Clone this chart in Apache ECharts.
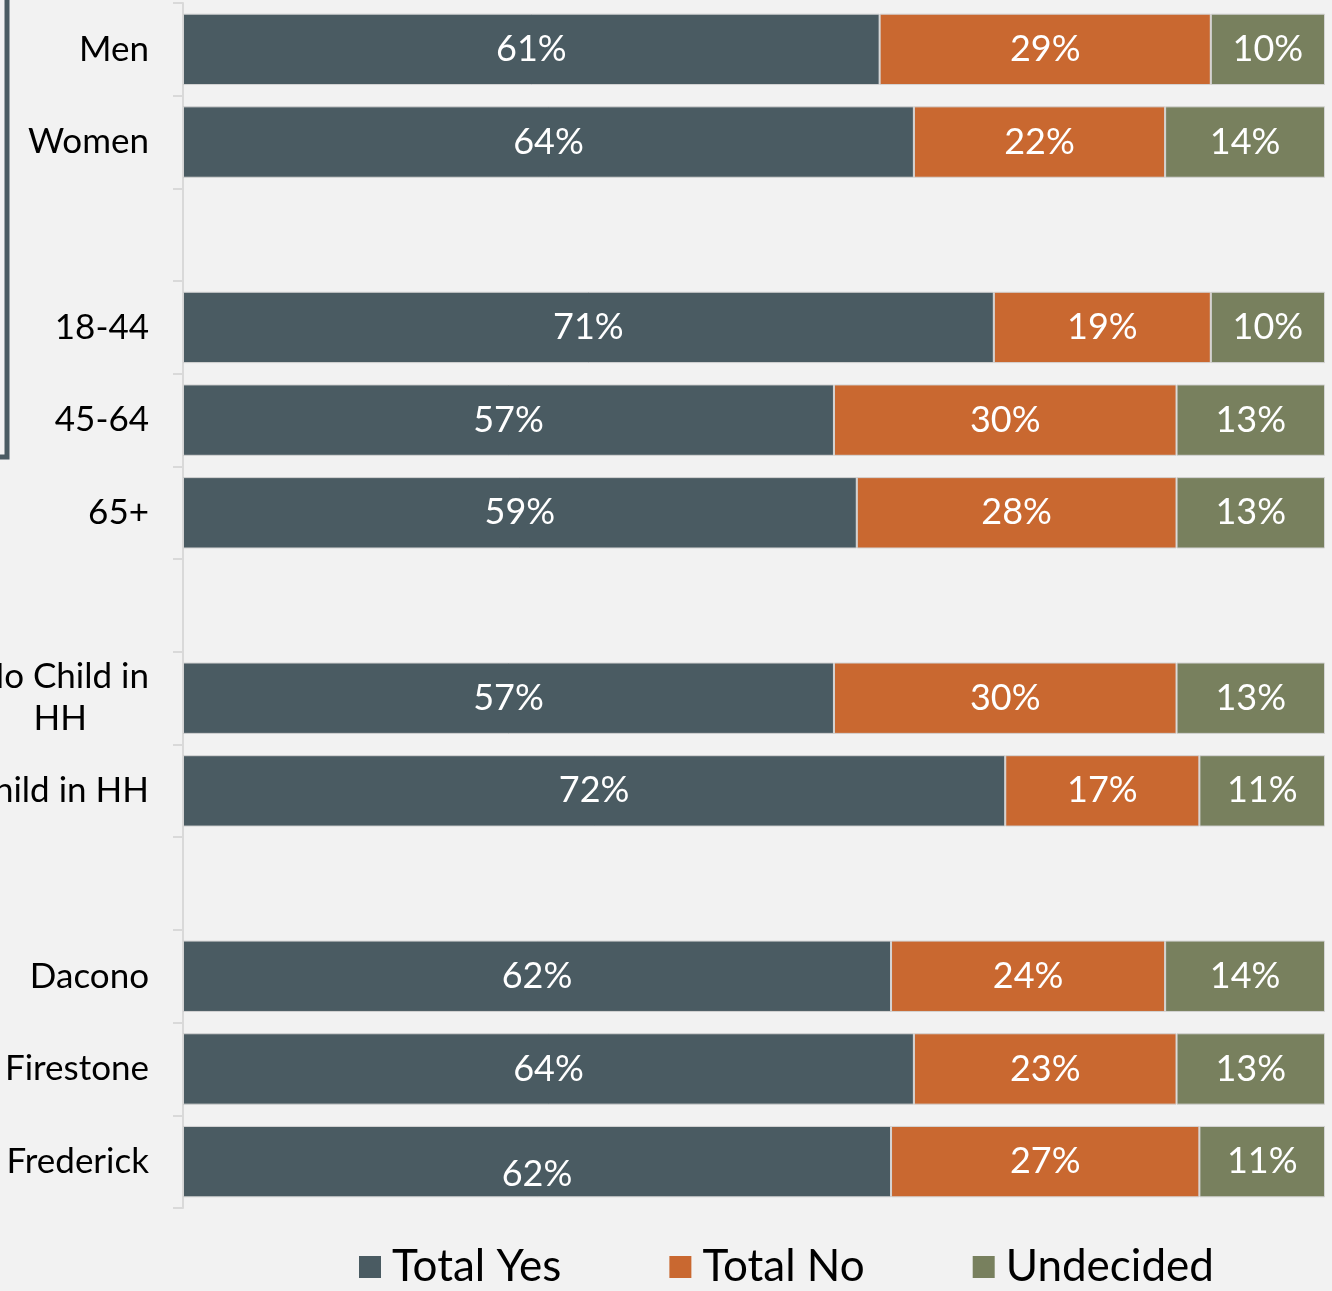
<!DOCTYPE html>
<html>
<head>
<meta charset="utf-8">
<script src="https://cdn.jsdelivr.net/npm/echarts@6/dist/echarts.min.js"></script>
<style>
  html, body { margin: 0; padding: 0; background: #f2f2f2; }
  #chart { width: 1332px; height: 1291px; }
</style>
</head>
<body>
<div id="chart"></div>
<script>
// categories top to bottom, blanks are the group gaps
const categories = ['Men', 'Women', '', '18-44', '45-64', '65+', '', 'No Child in HH', 'Child in HH', '', 'Dacono', 'Firestone', 'Frederick']
const totalYes = [61, 64, null, 71, 57, 59, null, 57, 72, null, 62, 64, 62]
const totalNo = [29, 22, null, 19, 30, 28, null, 30, 17, null, 24, 23, 27]
const undecided = [10, 14, null, 10, 13, 13, null, 13, 11, null, 14, 13, 11]

const FONT = 'Lato, "Open Sans", sans-serif'
const COLORS = { yes: '#4a5b62', no: '#c96830', und: '#78805e' }

const chart = echarts.init(document.getElementById('chart'))

// y axis is inverse so the list reads top to bottom
function makeSeries(name, values, color) {
  return {
    name,
    type: 'bar',
    stack: 'total',
    barWidth: '77%',
    data: values.map((v, i) => {
      const d = { value: v }
      // the last "yes" label sits a bit low in the original
      if (name === 'Total Yes' && i === values.length - 1) d.label = { offset: [0, 13] }
      return d
    }),
    itemStyle: { color, borderColor: '#d4d4d4', borderWidth: 1 },
    label: {
      show: true,
      position: 'inside',
      color: '#fff',
      fontFamily: FONT,
      fontSize: 36,
      formatter: p => p.value == null ? '' : p.value + '%',
    },
  }
}

chart.setOption({
  backgroundColor: '#f2f2f2',
  animation: false,
  grid: { left: 183, right: 7, top: 3, bottom: 83, outerBoundsMode: 'none', containLabel: false },
  xAxis: { type: 'value', min: 0, max: 100, show: false },
  yAxis: {
    type: 'category',
    data: categories,
    inverse: true,
    axisLine: { lineStyle: { color: '#d9d9d9', width: 2 } },
    axisTick: { show: true, length: 10, lineStyle: { color: '#d9d9d9', width: 2 } },
    axisLabel: {
      color: '#000',
      fontFamily: FONT,
      fontSize: 35,
      margin: 34,
      lineHeight: 42,
      formatter: v => v === 'No Child in HH' ? '{a|No Child in}\n{b|HH}' : v,
      rich: {
        a: { fontFamily: FONT, fontSize: 35, lineHeight: 42, color: '#000' },
        b: { fontFamily: FONT, fontSize: 35, lineHeight: 42, color: '#000', padding: [0, 62, 0, 0] },
      },
    },
  },
  legend: {
    bottom: -3,
    left: 354,
    itemWidth: 22,
    itemHeight: 22,
    itemGap: 108,
    icon: 'rect',
    itemStyle: { borderWidth: 0 },
    textStyle: { fontFamily: FONT, fontSize: 44, color: '#000', padding: [0, 0, 0, 6] },
    data: ['Total Yes', 'Total No', 'Undecided'],
  },
  graphic: [{
    type: 'polyline',
    shape: { points: [[7, 0], [7, 457], [0, 457]] },
    style: { stroke: '#4a5b62', lineWidth: 5, fill: null },
  }],
  series: [
    makeSeries('Total Yes', totalYes, COLORS.yes),
    makeSeries('Total No', totalNo, COLORS.no),
    makeSeries('Undecided', undecided, COLORS.und),
  ],
})
</script>
</body>
</html>
